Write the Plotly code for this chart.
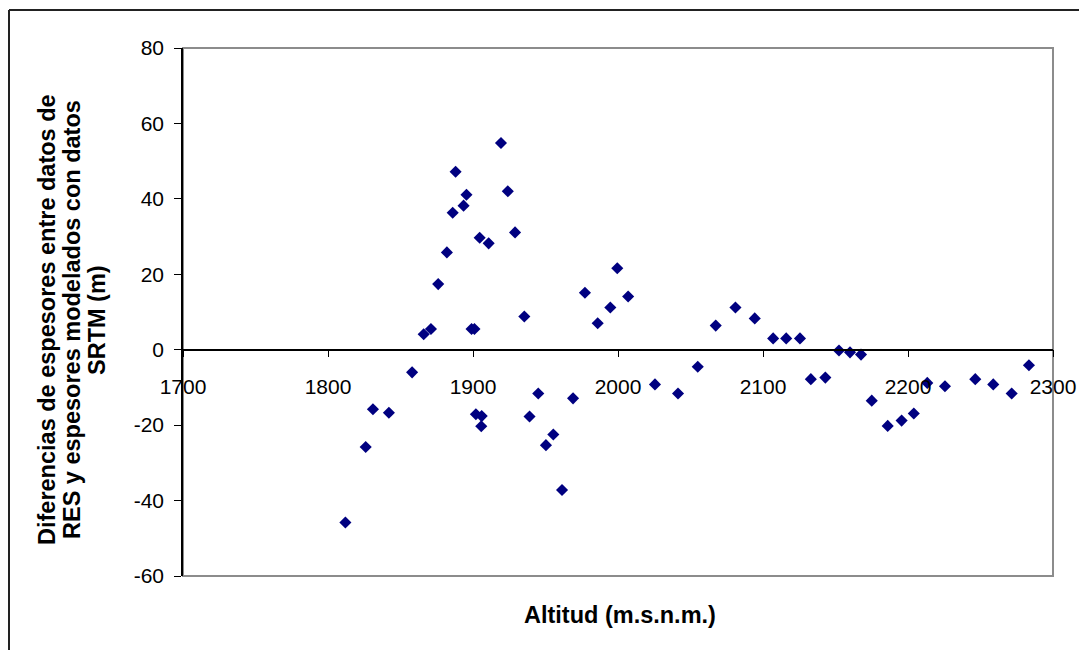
import plotly.graph_objects as go

# Data
altitud = [1812, 1826, 1831, 1842, 1858, 1866, 1871, 1876, 1882, 1886,
           1888, 1893.5, 1895.5, 1899, 1901, 1902, 1906, 1905.7, 1904.6, 1910.8,
           1919.3, 1924, 1929, 1935.4, 1939, 1945, 1950.3, 1955.4, 1961.4, 1969,
           1977.2, 1986, 1994.7, 1999.5, 2007, 2025.5, 2041.4, 2055, 2067.4, 2081,
           2094.3, 2107, 2116, 2125.5, 2133, 2143, 2152.4, 2160, 2167.6, 2175,
           2186, 2195.6, 2204, 2213.3, 2225.5, 2246.4, 2258.8, 2271.5, 2283.4]
diferencia = [-45.8, -25.8, -15.8, -16.7, -6.0, 4.1, 5.5, 17.4, 25.8, 36.3,
              47.2, 38.2, 41.1, 5.5, 5.5, -17.1, -17.6, -20.3, 29.7, 28.2,
              54.8, 42.0, 31.1, 8.8, -17.7, -11.6, -25.3, -22.5, -37.2, -12.9,
              15.1, 7.0, 11.2, 21.6, 14.1, -9.2, -11.6, -4.5, 6.4, 11.2,
              8.3, 3.0, 3.0, 3.0, -7.8, -7.4, -0.2, -0.7, -1.3, -13.5,
              -20.2, -18.8, -16.9, -8.8, -9.7, -7.8, -9.2, -11.6, -4.1]

x_ticks = [1700, 1800, 1900, 2000, 2100, 2200, 2300]
y_ticks = [-60, -40, -20, 0, 20, 40, 60, 80]

x_title = "Altitud (m.s.n.m.)"
y_title_lines = ["Diferencias de espesores entre datos de",
                 "RES y espesores modelados con datos",
                 "SRTM (m)"]

FONT = "Liberation Sans, Arial, sans-serif"
W, H = 1087, 650
L, R, T, B = 175, 42, 40, 82
pw, ph = W - L - R, H - T - B

ymin, ymax = -60, 80
zero_pos = (0 - ymin) / (ymax - ymin)

fig = go.Figure()
fig.add_trace(go.Scatter(
    x=altitud, y=diferencia, mode="markers",
    marker=dict(symbol="diamond", size=9.3, color="#000080", line=dict(width=0)),
    showlegend=False, cliponaxis=False,
))

def px_to_paper_x(px):
    return (px - L) / pw

def py_to_paper_y(py):
    return (H - B - py) / ph

annotations = [
    dict(text=x_title, xref="paper", yref="paper",
         x=px_to_paper_x(612), y=py_to_paper_y(607),
         xanchor="center", yanchor="middle", showarrow=False,
         font=dict(family=FONT, size=23.5, color="black", weight="bold")),
]
for txt, xpx in zip(y_title_lines, [39, 64, 89]):
    annotations.append(dict(
        text=txt, xref="paper", yref="paper",
        x=px_to_paper_x(xpx), y=py_to_paper_y(312),
        xanchor="center", yanchor="middle", showarrow=False, textangle=-90,
        font=dict(family=FONT, size=23.5, color="black", weight="bold")))

fig.update_layout(
    width=W, height=H,
    margin=dict(l=L, r=R, t=T, b=B),
    paper_bgcolor="white", plot_bgcolor="white",
    font=dict(family=FONT, size=21, color="black"),
    xaxis=dict(
        range=[1700, 2300], tickvals=x_ticks, ticktext=[str(v) for v in x_ticks],
        showgrid=False, zeroline=False,
        showline=True, linecolor="black", linewidth=1.5,
        ticks="outside", ticklen=7, tickwidth=1.2, tickcolor="black",
        anchor="free", position=zero_pos,
        ticklabelstandoff=11,
        tickfont=dict(family=FONT, size=21, color="black"),
    ),
    yaxis=dict(
        range=[ymin, ymax], tickvals=y_ticks, ticktext=[str(v) for v in y_ticks],
        showgrid=False, zeroline=False,
        showline=True, linecolor="black", linewidth=1.5,
        ticks="outside", ticklen=7, tickwidth=1.2, tickcolor="black",
        ticklabelstandoff=6,
        tickfont=dict(family=FONT, size=21, color="black"),
    ),
    shapes=[
        dict(type="rect", xref="paper", yref="paper", x0=0, y0=0, x1=1, y1=1,
             line=dict(color="#8c8c8c", width=2), layer="below"),
        dict(type="line", xref="paper", yref="paper",
             x0=px_to_paper_x(1), x1=px_to_paper_x(1),
             y0=py_to_paper_y(2), y1=py_to_paper_y(700),
             line=dict(color="#222222", width=2)),
        dict(type="line", xref="paper", yref="paper",
             x0=px_to_paper_x(1), x1=px_to_paper_x(1150),
             y0=py_to_paper_y(2), y1=py_to_paper_y(2),
             line=dict(color="#222222", width=2)),
    ],
    annotations=annotations,
)

fig.write_html("out.html")
